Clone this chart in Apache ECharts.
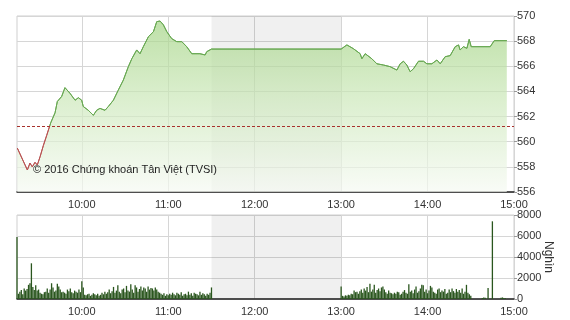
<!DOCTYPE html>
<html><head><meta charset="utf-8">
<script src="https://cdn.jsdelivr.net/npm/echarts@6/dist/echarts.min.js"></script>
<style>html,body{margin:0;padding:0;background:#fff}#c{width:570px;height:320px}</style>
</head><body><div id="c"></div>
<script>
// time in minutes since midnight
var hourTicks = [600, 660, 720, 780, 840, 900];
var priceTimes = [555.2,562.2,564,565.6,567.5,569.1,571,573.3,575.6,578.4,581.4,583,586,588.3,591.8,595.3,597.6,599.9,601,604.5,608,610.3,612.6,616.1,618.4,621.9,625.3,628.8,632.3,634.7,638.1,640.4,642.7,646.2,649.7,652,654.3,656.6,659,662.4,665.9,669.4,672.8,676.3,682,685.6,686.7,690,780,784,788.5,793.2,794.4,796.7,801.3,804.8,809.4,814,818.7,821,823.3,825.6,827.9,830.2,833.7,837.2,839.5,843,846.5,848.8,852.2,855.7,859.2,861.5,862.6,864.9,867.3,868.9,870.3,883.5,886.3,895];
var priceValues = [559.5,557.75,558.3,558.0,558.36,558.15,558.8,559.7,560.5,561.5,562.3,563.2,563.6,564.3,563.85,563.3,563.5,563.3,562.8,562.5,562.1,562.5,562.65,562.5,562.8,563.3,564.1,564.9,565.97,566.6,567.3,567.0,567.56,568.35,568.75,569.55,569.6,569.3,568.75,568.2,567.96,567.96,567.56,567.0,567.0,566.9,567.16,567.37,567.37,567.7,567.4,567.0,566.6,567.0,566.6,566.2,566.1,565.97,565.7,566.2,566.4,566.1,565.57,565.8,566.4,566.4,566.2,566.2,566.5,566.2,566.76,566.85,567.56,567.7,567.3,567.56,567.43,568.14,567.56,567.56,568.04,568.04];
var refPrice = 561.25;
var breakStart = 690, breakEnd = 780;
// volume (thousand shares) per minute
var morningStart = 555;
var morningVol = [5900,500,700,850,450,1000,800,950,1350,1500,
3400,1150,850,1300,800,900,600,500,450,650,
700,1000,600,900,1500,1100,700,800,1450,1200,
900,650,700,600,500,900,750,1000,650,550,
800,700,600,900,650,1700,1100,400,350,450,
500,300,400,550,450,350,500,300,400,600,
450,700,500,650,900,550,750,1150,600,800,
1300,700,550,900,1000,650,1250,800,700,1400,
900,600,1300,1100,700,950,1200,800,1100,1000,
700,1200,900,1050,1000,800,1100,900,700,600,
500,400,550,300,450,350,500,400,600,450,
350,600,500,400,650,300,450,500,350,700,
400,550,300,600,500,450,350,700,400,550,
450,300,500,400,600,1100];
var afternoonStart = 780;
var afternoonVol = [1200,300,250,350,300,400,350,500,450,800,
650,700,500,750,900,600,1000,800,1150,650,
1450,700,900,1350,600,850,1000,750,1100,1200,
900,650,500,800,600,550,450,600,500,700,
650,400,500,700,850,600,500,1400,700,800,
550,900,1200,600,750,1000,1350,1300,700,900,
550,800,1250,1100,700,600,500,900,1000,650,
800,700,950,500,600,900,650,1000,750,600,
950,700,850,600,1000,500,700,1350,600,450,
300];
var closeStart = 871;
var closeVol = [0,0,0,0,0,0,0,100,150,120,0,1050,0,0,7400,0,0,0,0,0,120,150,100,80,0,0,0,0,0];
var priceTicks = [556,558,560,562,564,566,568,570];
var volTicks = [0,2000,4000,6000,8000];
var volUnit = 'Nghìn';

function pairs(start, arr){ return arr.map(function(v,i){ return [start+i, v]; }); }
var volData = pairs(morningStart, morningVol).concat(pairs(afternoonStart, afternoonVol)).concat(pairs(closeStart, closeVol));
var priceData = priceTimes.map(function(t,i){ return [t, priceValues[i]]; });
function fmt(v){ var h=Math.floor(v/60), m=v%60; return h+':'+(m<10?'0':'')+m; }
var FONT = 'Liberation Sans, Arial, sans-serif';
var GREEN = '#68a852', RED = '#b85252';

function xAxisFor(idx){
  return {
    type:'value', gridIndex: idx, min: 555, max: 900,
    axisLine:{show:true, lineStyle:{color:'#222', width:1.5}},
    axisTick:{show:false, customValues: hourTicks},
    axisLabel:{customValues: hourTicks, formatter: fmt, color:'#333', fontSize:11, fontFamily:FONT, margin:7},
    splitLine:{show:true, lineStyle:{color:'#d6d6d6', width:1}}
  };
}
var chart = echarts.init(document.getElementById('c'), null, {renderer:'canvas'});
var option = {
  animation:false,
  grid:[
    {left:17, right:56, top:16, height:176, show:true, borderColor:'#cfcfcf', borderWidth:1, backgroundColor:'#fff'},
    {left:17, right:56, top:215, height:84, show:true, borderColor:'#cfcfcf', borderWidth:1, backgroundColor:'#fff'}
  ],
  xAxis:[xAxisFor(0), xAxisFor(1)],
  yAxis:[
    {type:'value', gridIndex:0, position:'right', min:556, max:570, interval:2,
     axisLine:{show:false}, axisTick:{show:true, length:3, lineStyle:{color:'#999'}},
     axisLabel:{color:'#333', fontSize:11, fontFamily:FONT, margin:3},
     splitLine:{lineStyle:{color:'#d6d6d6'}}},
    {type:'value', gridIndex:1, position:'right', min:0, max:8000, interval:2000,
     axisLine:{show:false}, axisTick:{show:true, length:3, lineStyle:{color:'#999'}},
     axisLabel:{color:'#333', fontSize:11, fontFamily:FONT, margin:3, formatter:function(v){return String(v);}},
     splitLine:{lineStyle:{color:'#d6d6d6'}}}
  ],
  series:[
    {type:'line', xAxisIndex:0, yAxisIndex:0, data:priceData, symbol:'none', z:3,
     lineStyle:{width:1, color:GREEN},
     areaStyle:{origin:'start', color:new echarts.graphic.LinearGradient(0,16,0,192,[
       {offset:0,color:'rgb(160,210,128)'},{offset:0.45,color:'rgb(202,231,183)'},{offset:1,color:'rgb(246,250,243)'}], true)},
     markLine:{silent:true, symbol:'none', label:{show:false},
       lineStyle:{type:[3,2], color:'#a8322d', width:1},
       data:[{yAxis:refPrice}]},
     markArea:{silent:true, itemStyle:{color:'rgba(0,0,0,0.06)'},
       data:[[{xAxis:breakStart},{xAxis:breakEnd}]]}
    },
    {type:'bar', xAxisIndex:1, yAxisIndex:1, data:volData, barWidth:1.3, z:3,
     itemStyle:{color:'#2a561e'},
     markArea:{silent:true, itemStyle:{color:'rgba(0,0,0,0.06)'},
       data:[[{xAxis:breakStart},{xAxis:breakEnd}]]}}
  ],
  graphic:[
    {type:'text', left:33, top:164, z:100,
     style:{text:'© 2016 Chứng khoán Tân Việt (TVSI)', fill:'#222', font:'11px '+FONT}},
    {type:'text', x:548, y:257, rotation:-Math.PI/2, z:100,
     style:{text:volUnit, fill:'#333', font:'12px '+FONT, align:'center', verticalAlign:'middle'}}
  ]
};
chart.setOption(option);
// colour the price line red below the reference level, via the axis scale
var refY = chart.convertToPixel({yAxisIndex:0}, refPrice);
var topY = chart.convertToPixel({yAxisIndex:0}, 570);
var botY = chart.convertToPixel({yAxisIndex:0}, 556);
var off = (refY - topY) / (botY - topY);
chart.setOption({series:[{lineStyle:{color:new echarts.graphic.LinearGradient(0, topY, 0, botY, [
  {offset:0, color:GREEN},{offset:off, color:GREEN},{offset:off, color:RED},{offset:1, color:RED}], true)}}]});
</script></body></html>
